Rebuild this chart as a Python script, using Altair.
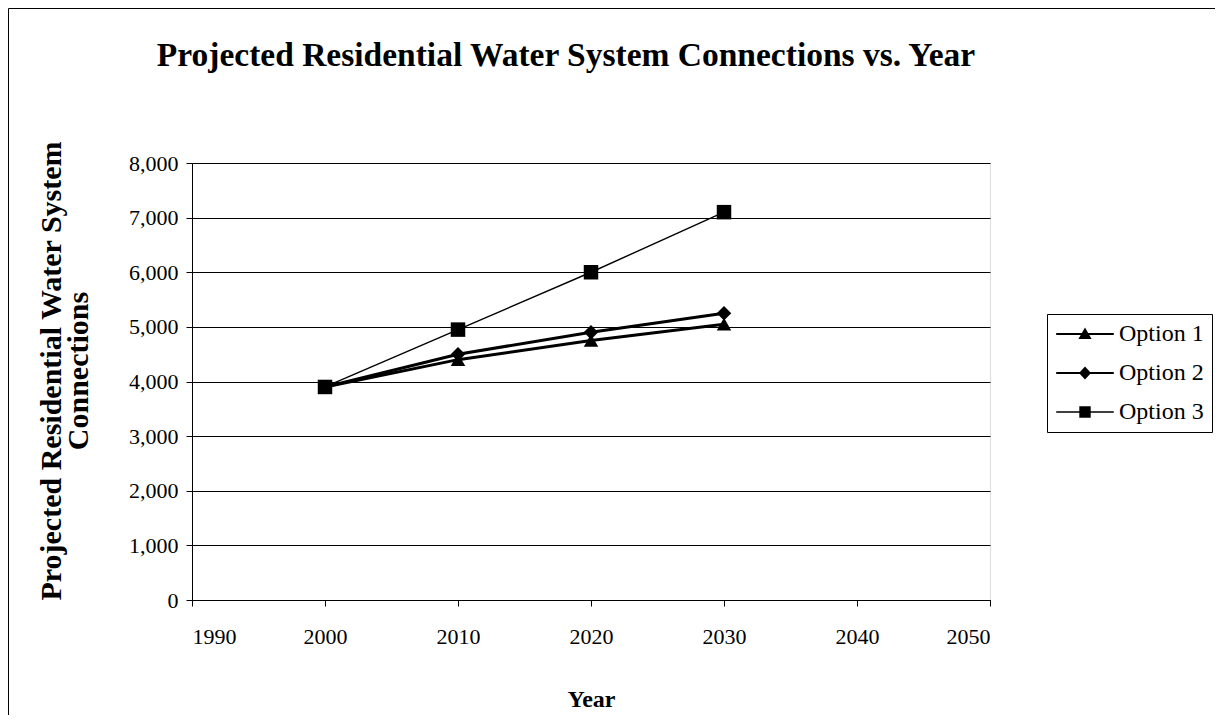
import altair as alt
import pandas as pd

# ---- data ----
years = [2000, 2010, 2020, 2030]
option_1 = [3900, 4400, 4750, 5050]
option_2 = [3900, 4500, 4900, 5250]
option_3 = [3900, 4950, 6000, 7100]
series_names = ["Option 1", "Option 2", "Option 3"]
x_ticks = [1990, 2000, 2010, 2020, 2030, 2040, 2050]
y_ticks = [0, 1000, 2000, 3000, 4000, 5000, 6000, 7000, 8000]

rows = []
for name, vals in zip(series_names, [option_1, option_2, option_3]):
    for yr, v in zip(years, vals):
        rows.append({"Year": yr, "Connections": v, "Series": name})
df = pd.DataFrame(rows)

FONT = "Liberation Serif"
W, H = 798, 437

x_enc = alt.X(
    "Year:Q",
    scale=alt.Scale(domain=[1990, 2050], nice=False, zero=False),
    axis=alt.Axis(
        values=x_ticks, format="d", title="Year", grid=False,
        labelFont=FONT, labelFontSize=22, labelColor="black", labelPadding=20,
        titleFont=FONT, titleFontSize=24, titleFontWeight="bold", titleColor="black",
        titlePadding=40, tickSize=6, tickColor="black", domainColor="black",
    ),
)
y_enc = alt.Y(
    "Connections:Q",
    scale=alt.Scale(domain=[0, 8000], nice=False),
    axis=alt.Axis(
        values=y_ticks, format=",.0f", title=["Projected Residential Water System", "Connections"],
        grid=True, gridColor="black", gridOpacity=1, gridWidth=1,
        labelFont=FONT, labelFontSize=22, labelColor="black", labelPadding=8,
        titleFont=FONT, titleFontSize=30, titleFontWeight="bold", titleColor="black",
        titleAngle=-90, titleX=-141, titleY=H / 2 - 11, titleAlign="center", titleBaseline="middle",
        titleLineHeight=27, tickSize=6, tickColor="black", domainColor="black",
    ),
)

base = alt.Chart(df)

lines = base.mark_line(color="black").encode(
    x=x_enc,
    y=y_enc,
    detail="Series:N",
    strokeWidth=alt.condition(alt.datum.Series == "Option 3", alt.value(1.4), alt.value(3)),
)

points = base.mark_point(filled=True, color="black", opacity=1, size=210).encode(
    x="Year:Q",
    y="Connections:Q",
    shape=alt.Shape(
        "Series:N",
        scale=alt.Scale(domain=series_names, range=["triangle-up", "diamond", "square"]),
        legend=None,
    ),
)

# legend symbols: thin bar (the line) with the marker in the middle
path_tri = "M-4.8,-0.17H4.8V0.17H-4.8ZM0,-1.1L1.1,0.85L-1.1,0.85Z"
path_dia = "M-4.8,-0.17H4.8V0.17H-4.8ZM0,-1.1L1.0,0L0,1.1L-1.0,0Z"
path_sq = "M-4.8,-0.12H4.8V0.12H-4.8ZM-0.95,-0.95H0.95V0.95H-0.95Z"

legend_layer = base.mark_point(filled=True, color="black", opacity=1, size=144).encode(
    x="Year:Q",
    y="Connections:Q",
    shape=alt.Shape(
        "Series:N",
        scale=alt.Scale(domain=series_names, range=[path_tri, path_dia, path_sq]),
        legend=alt.Legend(
            title=None, orient="none", legendX=855, legendY=151,
            padding=8, strokeColor="black", fillColor="white", cornerRadius=0,
            labelFont=FONT, labelFontSize=24, labelColor="black",
            symbolSize=144, symbolStrokeWidth=0, symbolFillColor="black",
            symbolOpacity=1, symbolOffset=18, labelOffset=22,
            rowPadding=15,
        ),
    ),
).transform_filter("false")

frame_df = pd.DataFrame({"k": [0]})
frame = alt.Chart(frame_df).mark_rect(fill=None, stroke="black", strokeWidth=1).encode(
    x=alt.value(-183.5), x2=alt.value(1025), y=alt.value(-154.5), y2=alt.value(620)
)

chart = (
    alt.layer(frame, lines, points, legend_layer)
    .resolve_scale(shape="independent")
    .properties(
        width=W,
        height=H,
        autosize=alt.AutoSizeParams(type="none"),
        padding={"left": 184, "top": 155, "right": 225, "bottom": 115},
        title=alt.TitleParams(
            text="Projected Residential Water System Connections vs. Year",
            font=FONT, fontSize=33.5, fontWeight="bold", color="black",
            anchor="middle", frame="group", dx=-25, offset=-65,
        ),
    )
    .configure_view(stroke="black", strokeWidth=1)
    .configure(background="white")
)

chart.save("out.html", embed_options={"renderer": "svg", "actions": False})
